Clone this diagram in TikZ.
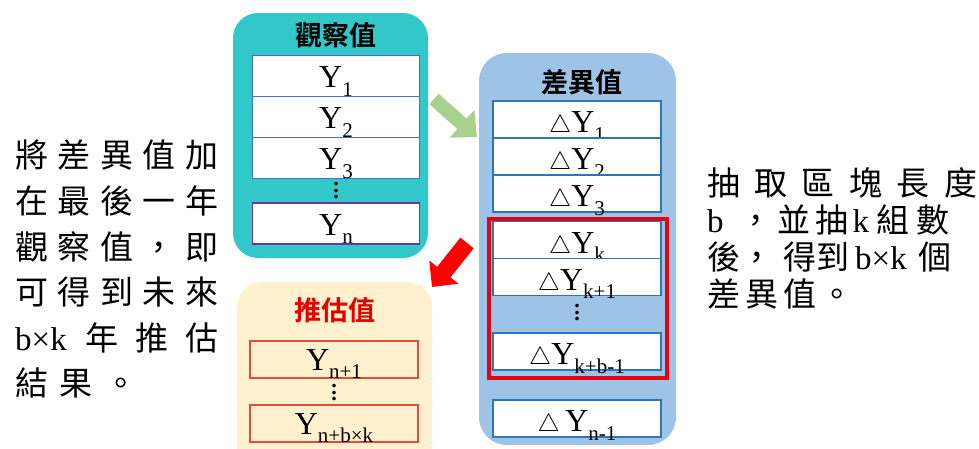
\documentclass[tikz,border=0pt]{standalone}
\usepackage{fontspec}
\setmainfont{Liberation Serif}
\newfontfamily\cjk{Noto Sans CJK TC}[BoldFont={Noto Sans CJK TC Bold}]
\usepackage{tikz}
\usetikzlibrary{positioning, arrows.meta}

\definecolor{obsteal}{RGB}{50,200,202}
\definecolor{diffblue}{RGB}{157,195,230}
\definecolor{estcream}{RGB}{255,241,206}
\definecolor{obsline}{RGB}{70,110,200}
\definecolor{ynline}{RGB}{112,48,160}
\definecolor{diffline}{RGB}{46,117,182}
\definecolor{estline}{RGB}{225,75,60}
\definecolor{framered}{RGB}{230,0,18}
\definecolor{arrowgreen}{RGB}{169,209,142}
\definecolor{titlered}{RGB}{230,0,0}

\newcommand{\yidx}[1]{\raisebox{-0.28em}{\fontsize{21}{21}\selectfont #1}}
\newcommand{\vdotcol}{\vbox{\fontsize{22}{22}\selectfont\bfseries\baselineskip=6.5pt \lineskiplimit=0pt \hbox{.}\hbox{.}\hbox{.}}}

\begin{document}
\begin{tikzpicture}[x=1pt, y=-1pt,
    obsbox/.style={fill=obsteal, rounded corners=25pt, minimum width=195pt, minimum height=245pt}, % observed values
    diffbox/.style={fill=diffblue, rounded corners=28pt, minimum width=197pt, minimum height=392pt},
    estbox/.style={fill=estcream, rounded corners=25pt, minimum width=195pt, minimum height=198pt},
    ycell/.style={draw=obsline, fill=white, line width=1.2pt, minimum width=167pt, minimum height=41pt, inner sep=0pt, outer sep=0pt, text height=23pt, text depth=0pt, font=\fontsize{32}{32}\selectfont},
    dcell/.style={draw=diffline, fill=white, line width=1.8pt, minimum width=168pt, minimum height=37pt, inner sep=0pt, outer sep=0pt, text height=26pt, text depth=0pt, font=\fontsize{32}{32}\selectfont},
    ecell/.style={draw=estline, line width=1.5pt, minimum width=168pt, minimum height=37pt, inner sep=0pt, outer sep=0pt, text height=21pt, text depth=0pt, font=\fontsize{32}{32}\selectfont},
    redframe/.style={draw=framered, line width=4pt, minimum width=178pt, minimum height=159pt, inner sep=0pt},
    dotnode/.style={inner sep=0pt},
    titletext/.style={inner sep=0pt, font=\cjk\bfseries\fontsize{27}{27}\selectfont},
    sidetext/.style={inner sep=0pt, align=left, anchor=north west, font=\fontsize{33}{45.6}\selectfont},
    greenarrow/.style={draw=arrowgreen, line width=14pt, -{Triangle[length=20pt, width=36pt]}},
    redarrow/.style={draw=red, line width=17pt, -{Triangle[length=19pt, width=36pt]}}
]
\clip (0,0) rectangle (979,448);

% containers
\node[obsbox] (obsbox) at (330.5,135.5) {};
\node[diffbox] (diffbox) at (577.5,249) {};
\node[estbox] (estbox) at (334.5,381) {};

\node[titletext] (obstitle) at (336,35) {觀察值};
\node[titletext] (difftitle) at (582,82) {差異值};
\node[titletext, text=titlered] (esttitle) at (335,310) {推估值};

% observed values
\node[ycell] (y1) at (336,76) {Y\yidx{1}};
\node[ycell] (y2) [below=0pt of y1] {Y\yidx{2}};
\node[ycell] (y3) [below=0pt of y2] {Y\yidx{3}};
\node[dotnode] (ydots) at (336,191) {\vdotcol};
\node[ycell, draw=ynline] (yn) at (336,223.5) {Y\yidx{n}};

% differences
\node[dcell] (d1) at (577,119.5) {$\triangle$Y\yidx{1}};
\node[dcell] (d2) [below=0pt of d1] {$\triangle$Y\yidx{2}};
\node[dcell] (d3) [below=0pt of d2] {$\triangle$Y\yidx{3}};
\node[dcell] (dk) at (577,240) {$\triangle$Y\yidx{k}};
\node[dcell] (dk1) [below=0pt of dk] {$\triangle$Y\yidx{k+1}};
\node[dotnode] (ddots) at (577,313) {\vdotcol};
\node[dcell] (dkb) at (577,351.5) {$\triangle$Y\yidx{k+b-1}};
\node[dcell] (dn1) at (577,418.5) {$\triangle$\,Y\yidx{n-1}};
\node[redframe] (block) at (578,298.5) {};

% estimates
\node[ecell] (e1) at (334,359.5) {Y\yidx{n+1}};
\node[dotnode] (edots) at (334,393) {\vdotcol};
\node[ecell] (eb) at (334,423.5) {Y\yidx{n+b×k}};

% side notes
\node[sidetext] (lefttext) at (15,140) {%
  \makebox[203pt][s]{\cjk 將 差 異 值 加}\\
  \makebox[203pt][s]{\cjk 在 最 後 一 年}\\
  \makebox[203pt][s]{\cjk 觀 察 值 ， 即}\\
  \makebox[203pt][s]{\cjk 可 得 到 未 來}\\
  \makebox[203pt][s]{b×k {\cjk 年 推 估}}\\
  \makebox[122pt][s]{\cjk 結 果 。}};
\node[sidetext, font=\fontsize{33}{37}\selectfont] (righttext) at (707,167) {%
  \makebox[270pt][s]{\cjk 抽 取 區 塊 長 度}\\
  b\hspace{16pt}{\cjk ，}\hspace{5pt}{\cjk 並}\hspace{5pt}{\cjk 抽}\hspace{4pt}k\hspace{7pt}{\cjk 組}\hspace{7pt}{\cjk 數}\\
  {\cjk 後，}\hspace{10pt}{\cjk 得到}\hspace{6pt}b×k\hspace{12pt}{\cjk 個}\\
  \makebox[143pt][s]{\cjk 差 異 值 。}};

% arrows
\coordinate (gstart) at (434,99);
\coordinate (gend) at (477,137);
\draw[greenarrow] (gstart) -- (gend);
\coordinate (rstart) at (467,243);
\coordinate (rend) at (432,287);
\draw[redarrow] (rstart) -- (rend);

\end{tikzpicture}
\end{document}
